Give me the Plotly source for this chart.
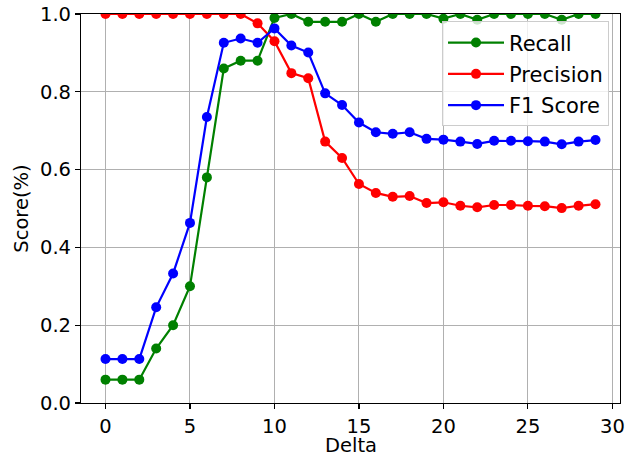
import plotly.graph_objects as go

delta = list(range(30))
recall = [0.06, 0.06, 0.06, 0.14, 0.20, 0.30, 0.58, 0.86, 0.88, 0.88,
          0.99, 1.00, 0.98, 0.98, 0.98, 1.00, 0.98, 1.00, 1.00, 1.00,
          0.988, 1.00, 0.985, 1.00, 1.00, 1.00, 1.00, 0.985, 1.00, 1.00]
precision = [1.00, 1.00, 1.00, 1.00, 1.00, 1.00, 1.00, 1.00, 1.00, 0.976,
             0.93, 0.848, 0.835, 0.672, 0.630, 0.563, 0.540, 0.530, 0.532, 0.514,
             0.516, 0.507, 0.503, 0.509, 0.509, 0.507, 0.506, 0.501, 0.507, 0.511]
f1 = [0.113, 0.113, 0.113, 0.246, 0.333, 0.463, 0.735, 0.926, 0.937, 0.926,
      0.963, 0.919, 0.901, 0.796, 0.766, 0.721, 0.696, 0.692, 0.696, 0.679,
      0.677, 0.672, 0.666, 0.674, 0.674, 0.673, 0.672, 0.665, 0.672, 0.676]
x_ticks = [0, 5, 10, 15, 20, 25, 30]
y_ticks = [0.0, 0.2, 0.4, 0.6, 0.8, 1.0]
x_title = "Delta"
y_title = "Score(%)"

series = [("Recall", recall, "#008000"),
          ("Precision", precision, "#ff0000"),
          ("F1 Score", f1, "#0000ff")]

fig = go.Figure()
for name, vals, col in series:
    fig.add_trace(go.Scatter(x=delta, y=vals, name=name, mode="lines+markers",
                             legendgroup=name,
                             line=dict(color=col, width=2.2),
                             marker=dict(color=col, size=10)))

font = dict(family="DejaVu Sans", size=19.5, color="black")
axis_common = dict(showgrid=True, gridcolor="#b0b0b0", gridwidth=1,
                   showline=True, linecolor="black", linewidth=1.1, mirror=True,
                   ticks="outside", ticklen=5, tickwidth=1.1, tickcolor="black",
                   zeroline=False, tickfont=font, automargin=False)

fig.update_layout(
    template="none",
    width=627, height=458,
    margin=dict(l=81, r=7, t=14, b=55, pad=0),
    paper_bgcolor="white", plot_bgcolor="white",
    font=font,
    showlegend=True,
    legend=dict(x=0.9796, y=0.981, xanchor="right", yanchor="top",
                bgcolor="rgba(255,255,255,0.8)", bordercolor="#cccccc",
                borderwidth=1, font=dict(family="DejaVu Sans", size=21, color="black"),
                traceorder="grouped", tracegroupgap=1, itemwidth=56),
    xaxis=dict(range=[-1.45, 30.45], tickvals=x_ticks,
               ticktext=[str(v) for v in x_ticks], **axis_common),
    yaxis=dict(range=[0, 1], tickvals=y_ticks,
               ticktext=[f"{v:.1f}" for v in y_ticks],
               title=dict(text=y_title, font=font, standoff=6), **axis_common),
    annotations=[dict(text=x_title, xref="paper", yref="paper", x=0.5, y=-0.078,
                      xanchor="center", yanchor="top", showarrow=False, font=font,
                      borderpad=0)],
)

fig.write_html("out.html",
               config={"displayModeBar": False, "staticPlot": True},
               post_script="document.body.style.margin='0';"
                           "document.body.style.overflow='hidden';")
